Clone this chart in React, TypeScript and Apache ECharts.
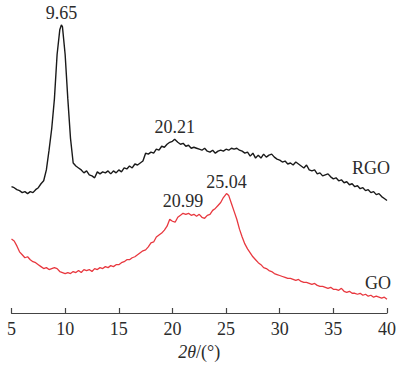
import React, { useEffect, useRef } from "react";
import * as echarts from "echarts";

// XRD patterns: [2θ (°), intensity (a.u., offset for stacking)]
const rgoPattern: [number, number][] = [
  [5.0, 128], [5.25, 127], [5.5, 125], [5.75, 124], [6.0, 122], [6.25, 123], [6.5, 121], [6.75, 123],
  [7.0, 122], [7.25, 125], [7.5, 127], [7.75, 131], [8.0, 134], [8.25, 145], [8.5, 165], [8.75, 187],
  [9.0, 217], [9.25, 262], [9.5, 287], [9.65, 292], [9.75, 290], [10.0, 262], [10.25, 217], [10.5, 177],
  [10.75, 152], [11.0, 149], [11.25, 147], [11.5, 145], [11.75, 142], [12.0, 144], [12.25, 140], [12.5, 139],
  [12.75, 137], [13.0, 143], [13.25, 141], [13.5, 143], [13.75, 142], [14.0, 144], [14.25, 141], [14.5, 144],
  [14.75, 142], [15.0, 145], [15.25, 143], [15.5, 147], [15.75, 146], [16.0, 149], [16.25, 147], [16.5, 151],
  [16.75, 150], [17.0, 152], [17.25, 154], [17.5, 162], [17.75, 161], [18.0, 163], [18.25, 162], [18.5, 166],
  [18.75, 165], [19.0, 169], [19.25, 168], [19.5, 171], [19.75, 173], [20.0, 174], [20.21, 176], [20.5, 173],
  [20.75, 171], [21.0, 172], [21.25, 169], [21.5, 170], [21.75, 167], [22.0, 168], [22.25, 167], [22.5, 166],
  [22.75, 165], [23.0, 167], [23.25, 164], [23.5, 163], [23.75, 165], [24.0, 162], [24.25, 164], [24.5, 165],
  [24.75, 164], [25.0, 166], [25.25, 165], [25.5, 167], [25.75, 166], [26.0, 167], [26.25, 165], [26.5, 164],
  [26.75, 162], [27.0, 163], [27.25, 159], [27.5, 162], [27.75, 157], [28.0, 160], [28.25, 157], [28.5, 161],
  [28.75, 158], [29.0, 160], [29.25, 161], [29.5, 158], [29.75, 156], [30.0, 155], [30.25, 153], [30.5, 154],
  [30.75, 151], [31.0, 152], [31.25, 150], [31.5, 153], [31.75, 151], [32.0, 149], [32.25, 147], [32.5, 150],
  [32.75, 145], [33.0, 144], [33.25, 145], [33.5, 141], [33.75, 142], [34.0, 139], [34.25, 140], [34.5, 141],
  [34.75, 138], [35.0, 136], [35.25, 137], [35.5, 134], [35.75, 135], [36.0, 132], [36.25, 133], [36.5, 130],
  [36.75, 131], [37.0, 128], [37.25, 129], [37.5, 126], [37.75, 127], [38.0, 124], [38.25, 125], [38.5, 122],
  [38.75, 123], [39.0, 120], [39.25, 121], [39.5, 118], [39.75, 116], [40.0, 114],
];

const goPattern: [number, number][] = [
  [5.0, 75], [5.25, 73], [5.5, 68], [5.75, 62], [6.0, 59], [6.25, 56], [6.5, 57], [6.75, 54],
  [7.0, 52], [7.25, 51], [7.5, 49], [7.75, 47], [8.0, 45], [8.25, 46], [8.5, 44], [8.75, 45],
  [9.0, 46], [9.25, 45], [9.5, 42], [9.75, 41], [10.0, 40], [10.25, 41], [10.5, 40], [10.75, 42],
  [11.0, 41], [11.25, 43], [11.5, 41], [11.75, 44], [12.0, 43], [12.25, 44], [12.5, 42], [12.75, 45],
  [13.0, 44], [13.25, 46], [13.5, 45], [13.75, 47], [14.0, 46], [14.25, 48], [14.5, 47], [14.75, 49],
  [15.0, 49], [15.25, 51], [15.5, 52], [15.75, 54], [16.0, 54], [16.25, 56], [16.5, 57], [16.75, 59],
  [17.0, 61], [17.25, 63], [17.5, 64], [17.75, 67], [18.0, 71], [18.25, 72], [18.5, 77], [18.75, 79],
  [19.0, 81], [19.25, 84], [19.5, 88], [19.75, 95], [20.0, 93], [20.25, 92], [20.5, 97], [20.75, 99],
  [20.99, 101], [21.25, 100], [21.5, 101], [21.75, 99], [22.0, 100], [22.25, 98], [22.5, 100], [22.75, 97],
  [23.0, 96], [23.25, 99], [23.5, 100], [23.75, 104], [24.0, 106], [24.25, 109], [24.5, 112], [24.75, 117],
  [25.04, 121], [25.25, 119], [25.5, 111], [25.75, 103], [26.0, 95], [26.25, 85], [26.5, 77], [26.75, 70],
  [27.0, 65], [27.25, 61], [27.5, 57], [27.75, 54], [28.0, 51], [28.25, 49], [28.5, 46], [28.75, 45],
  [29.0, 43], [29.25, 42], [29.5, 40], [29.75, 39], [30.0, 38], [30.25, 37], [30.5, 36], [30.75, 35],
  [31.0, 35], [31.25, 34], [31.5, 33], [31.75, 34], [32.0, 32], [32.25, 31], [32.5, 31], [32.75, 30],
  [33.0, 29], [33.25, 30], [33.5, 28], [33.75, 27], [34.0, 27], [34.25, 26], [34.5, 25], [34.75, 26],
  [35.0, 24], [35.25, 24], [35.5, 23], [35.75, 25], [36.0, 22], [36.25, 21], [36.5, 22], [36.75, 20],
  [37.0, 20], [37.25, 19], [37.5, 20], [37.75, 18], [38.0, 19], [38.25, 17], [38.5, 18], [38.75, 16],
  [39.0, 17], [39.25, 16], [39.5, 15], [39.75, 16], [40.0, 14],
];

// Labelled diffraction peaks (2θ positions)
const rgoPeaks = [9.65, 20.21];
const goPeaks = [20.99, 25.04];

const xTicks = [5, 10, 15, 20, 25, 30, 35, 40];

const FONT = "Liberation Serif";
const TEXT = "#2b2b2b";
const RGO_COLOR = "#1a1a1a";
const GO_COLOR = "#e8383f";

function peakMarks(pattern: [number, number][], peaks: number[]) {
  return peaks.map((p) => {
    const pt = pattern.find((d) => d[0] === p)!;
    return {
      coord: [pt[0], pt[1]],
      value: p.toFixed(2),
    };
  });
}

export default function App() {
  const ref = useRef<HTMLDivElement>(null);

  useEffect(() => {
    if (!ref.current) return;
    const chart = echarts.init(ref.current, undefined, { renderer: "svg" });

    const markStyle = {
      symbol: "circle",
      symbolSize: 0,
      silent: true,
      label: {
        show: true,
        position: "top",
        distance: 3,
        fontFamily: FONT,
        fontSize: 18,
        color: TEXT,
        formatter: (p: any) => p.value,
      },
    };

    chart.setOption({
      animation: false,
      backgroundColor: "#fff",
      textStyle: { fontFamily: FONT, fontSize: 18, color: TEXT },
      grid: { left: 11.5, right: 9.5, top: 17, bottom: 49, containLabel: false },
      xAxis: {
        type: "value",
        min: 5,
        max: 40,
        interval: 5,
        name: "{it|2θ}/(°)",
        nameLocation: "middle",
        nameGap: 30,
        nameTextStyle: {
          fontFamily: FONT,
          fontSize: 18,
          color: TEXT,
          rich: {
            it: { fontFamily: FONT, fontSize: 18, fontStyle: "italic", color: TEXT },
          },
        },
        axisLine: { show: true, lineStyle: { color: "#444", width: 1.2 } },
        axisTick: { show: true, inside: true, length: 5, lineStyle: { color: "#444", width: 1.2 } },
        axisLabel: {
          margin: 7,
          fontFamily: FONT,
          fontSize: 18,
          color: TEXT,
          formatter: (v: number) => (xTicks.includes(v) ? String(v) : ""),
        },
        splitLine: { show: false },
      },
      yAxis: {
        type: "value",
        min: 0,
        max: 300,
        show: false,
      },
      series: [
        {
          name: "RGO",
          type: "line",
          data: rgoPattern,
          showSymbol: false,
          symbol: "none",
          lineStyle: { color: RGO_COLOR, width: 1.4 },
          markPoint: { ...markStyle, data: peakMarks(rgoPattern, rgoPeaks) },
        },
        {
          name: "GO",
          type: "line",
          data: goPattern,
          showSymbol: false,
          symbol: "none",
          lineStyle: { color: GO_COLOR, width: 1.3 },
          markPoint: { ...markStyle, data: peakMarks(goPattern, goPeaks) },
        },
      ],
      graphic: [
        {
          type: "text",
          left: 352,
          top: 159,
          style: { text: "RGO", fontFamily: FONT, fontSize: 18, fill: TEXT },
        },
        {
          type: "text",
          left: 365,
          top: 274,
          style: { text: "GO", fontFamily: FONT, fontSize: 18, fill: TEXT },
        },
      ],
    });

    return () => chart.dispose();
  }, []);

  return (
    <div
      ref={ref}
      style={{ position: "fixed", left: 0, top: 0, width: 399, height: 366 }}
    />
  );
}
